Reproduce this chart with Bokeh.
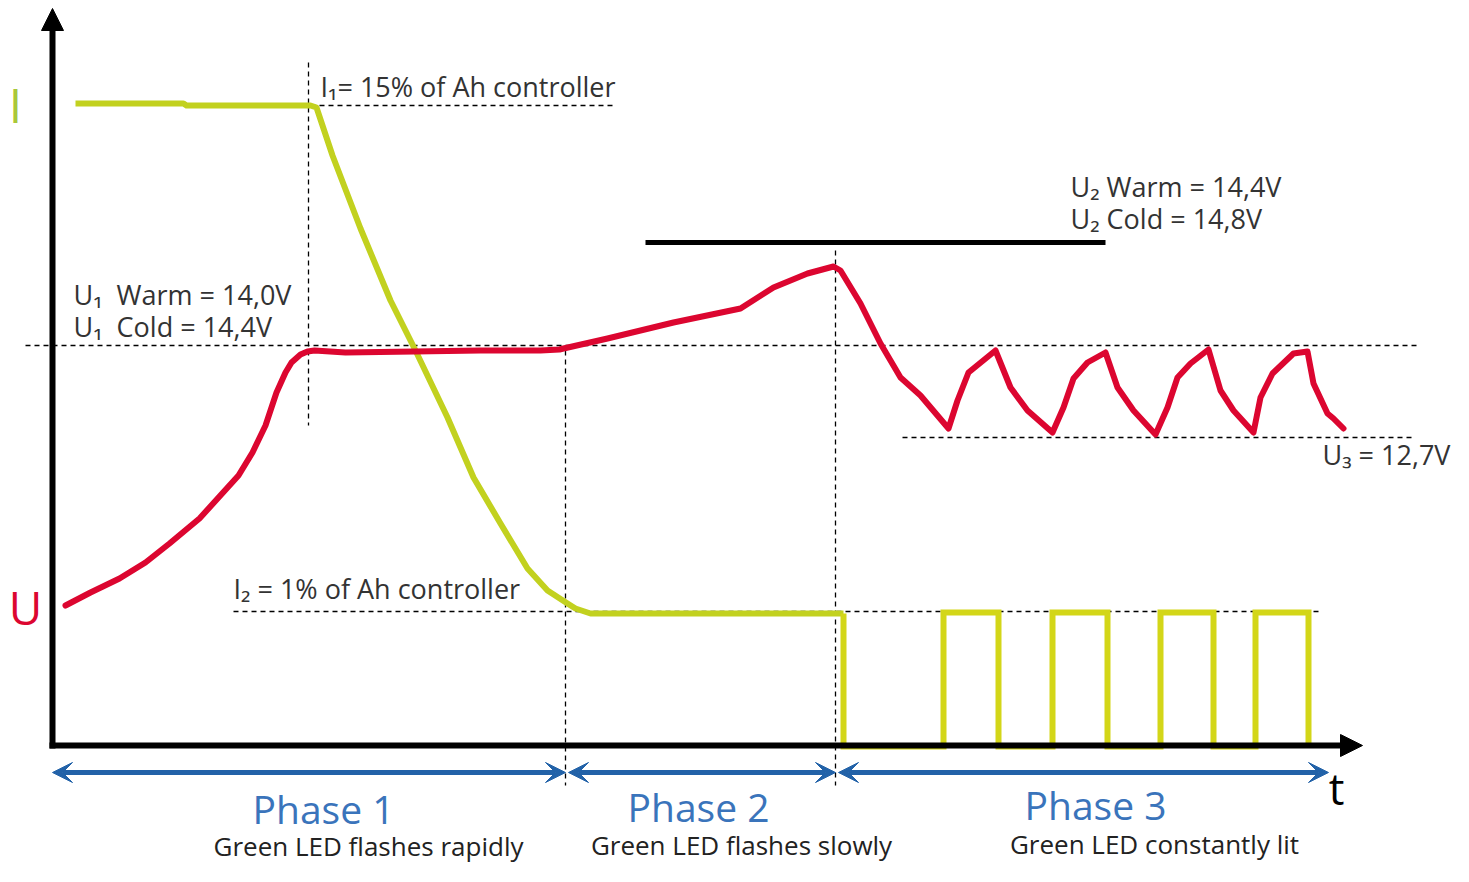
from bokeh.plotting import figure
from bokeh.models import Range1d, Arrow, VeeHead, NormalHead
from bokeh.core.properties import value
from bokeh.embed import file_html
from bokeh.resources import INLINE

# ---------------- data (drawing units: t to the right, level downward) ----------------
# Current curve I (charging current)
i_curve_t = [75, 183, 186, 310, 316, 322, 332, 360, 390, 415, 447, 473, 500, 527, 547, 567, 575, 590, 840, 843]
i_curve_level = [103, 103, 105, 105, 107, 125, 155, 228, 300, 350, 417, 477, 523, 568, 590, 603, 608, 613, 613, 613]

# Pulse current in phase 3
pulse_t = [843, 843, 943, 943, 998, 998, 1052, 1052, 1107, 1107, 1160, 1160, 1213, 1213, 1255, 1255, 1308, 1308]
pulse_level = [613, 746, 746, 612, 612, 746, 746, 612, 612, 746, 746, 612, 612, 746, 746, 612, 612, 745]

# Voltage curve U
u_curve_t = [65, 90, 119, 145, 169, 199, 238, 252, 265, 276, 285, 291, 300, 307, 314, 345, 414, 480, 540, 559,
             563, 607, 673, 740, 773, 807, 833, 840, 860, 880, 900, 920, 948,
             957, 968, 995, 1010, 1027, 1052, 1063, 1073, 1087, 1105, 1117, 1133, 1155,
             1167, 1177, 1190, 1208, 1220, 1233, 1253, 1260, 1272, 1293, 1307, 1313, 1327, 1333, 1343]
u_curve_level = [605, 592, 578, 562, 543, 518, 475, 452, 425, 392, 372, 362, 354, 351, 350, 352, 351, 350, 350, 349,
                 348, 338, 322, 308, 287, 273, 266, 270, 303, 343, 377, 395, 428,
                 400, 372, 350, 387, 410, 432, 407, 378, 362, 352, 387, 410, 434,
                 407, 377, 363, 349, 390, 410, 432, 397, 373, 353, 351, 383, 413, 418, 428]

# Reference levels
i1_level = 105
u2_level = 242
u1_level = 345
u3_level = 437
i2_level = 611
axis_level = 745
axis_t0 = 52

# Phase boundaries
phase_bounds = [52, 565, 835, 1328]
phase_names = ["Phase 1", "Phase 2", "Phase 3"]
phase_led = ["Green LED flashes rapidly", "Green LED flashes slowly", "Green LED constantly lit"]

# ---------------- figure ----------------
W, H = 1453, 866
p = figure(width=W, height=H, output_backend="svg", toolbar_location=None,
           x_range=Range1d(0, W), y_range=Range1d(H, 0),
           min_border=0)
p.xaxis.visible = False
p.yaxis.visible = False
p.grid.visible = False
p.outline_line_color = None
p.background_fill_color = "white"
p.border_fill_color = "white"

FONT = value("Open Sans")
TXT = "#333333"
DASH = "5 4"
NB = "\u00a0"

# dashed reference lines
p.line([310, 615], [i1_level, i1_level], line_color="black", line_width=1.3, line_dash=DASH)
p.line([308, 308], [62, 425], line_color="black", line_width=1.3, line_dash=DASH)
p.line([25, 1418], [u1_level, u1_level], line_color="black", line_width=1.3, line_dash=DASH)
p.line([phase_bounds[1], phase_bounds[1]], [350, 785], line_color="black", line_width=1.3, line_dash=DASH)
p.line([233, 1318], [i2_level, i2_level], line_color="black", line_width=1.3, line_dash=DASH)
p.line([phase_bounds[2], phase_bounds[2]], [250, 785], line_color="black", line_width=1.3, line_dash=DASH)
p.line([902, 1415], [u3_level, u3_level], line_color="black", line_width=1.3, line_dash=DASH)

# U2 solid line
p.line([645, 1105], [u2_level, u2_level], line_color="black", line_width=5)

# axes with arrows
p.add_layout(Arrow(end=NormalHead(size=22, fill_color="black", line_color="black"),
                   x_start=axis_t0, y_start=axis_level + 3, x_end=axis_t0, y_end=8,
                   line_color="black", line_width=6))
p.add_layout(Arrow(end=NormalHead(size=22, fill_color="black", line_color="black"),
                   x_start=axis_t0 - 3, y_start=axis_level, x_end=1362, y_end=axis_level,
                   line_color="black", line_width=6))

# curves
p.line(i_curve_t, i_curve_level, line_color="#c2d11f", line_width=6, line_join="round")
p.line(pulse_t, pulse_level, line_color="#d3d618", line_width=6, line_join="miter")
p.line(u_curve_t, u_curve_level, line_color="#dc0630", line_width=6, line_join="round", line_cap="round")

# phase arrows
BLUE = "#2262a8"
for a, b in zip(phase_bounds[:-1], phase_bounds[1:]):
    s = a + (3 if a != phase_bounds[0] else 0)
    p.add_layout(Arrow(start=VeeHead(size=20, fill_color=BLUE, line_color=BLUE),
                       end=VeeHead(size=20, fill_color=BLUE, line_color=BLUE),
                       x_start=s, y_start=772, x_end=b, y_end=772,
                       line_color=BLUE, line_width=5))

# phase labels
p.text(x=[323, 698, 1095], y=[808, 806, 804], text=phase_names, text_align="center",
       text_baseline="middle", text_font=FONT, text_font_size="39px", text_color="#3a74bb")
p.text(x=[368, 741, 1154], y=[845, 844, 843], text=phase_led, text_align="center",
       text_baseline="middle", text_font=FONT, text_font_size="26px", text_color="#222222")

# axis labels
p.text(x=[15], y=[104], text=["I"], text_align="center", text_baseline="middle",
       text_font=FONT, text_font_size="48px", text_color="#a9c83a")
p.text(x=[25], y=[606], text=["U"], text_align="center", text_baseline="middle",
       text_font=FONT, text_font_size="46px", text_color="#dc0630")
p.text(x=[1336], y=[787], text=["t"], text_align="center", text_baseline="middle",
       text_font=FONT, text_font_size="44px", text_color="black")

# annotations
p.text(x=[320], y=[86], text=["I₁= 15% of Ah controller"], text_align="left", text_baseline="middle",
       text_font=FONT, text_font_size="27px", text_color=TXT)
p.text(x=[73, 73], y=[294, 326], text=["U₁" + NB + NB + "Warm = 14,0V", "U₁" + NB + NB + "Cold = 14,4V"],
       text_align="left", text_baseline="middle", text_font=FONT, text_font_size="27px", text_color=TXT)
p.text(x=[1070, 1070], y=[186, 218], text=["U₂ Warm = 14,4V", "U₂ Cold = 14,8V"], text_align="left",
       text_baseline="middle", text_font=FONT, text_font_size="27px", text_color=TXT)
p.text(x=[1322], y=[454], text=["U₃ = 12,7V"], text_align="left", text_baseline="middle",
       text_font=FONT, text_font_size="27px", text_color=TXT)
p.text(x=[233], y=[588], text=["I₂ = 1% of Ah controller"], text_align="left", text_baseline="middle",
       text_font=FONT, text_font_size="27px", text_color=TXT)

open("out.html", "w").write(file_html(p, INLINE))
